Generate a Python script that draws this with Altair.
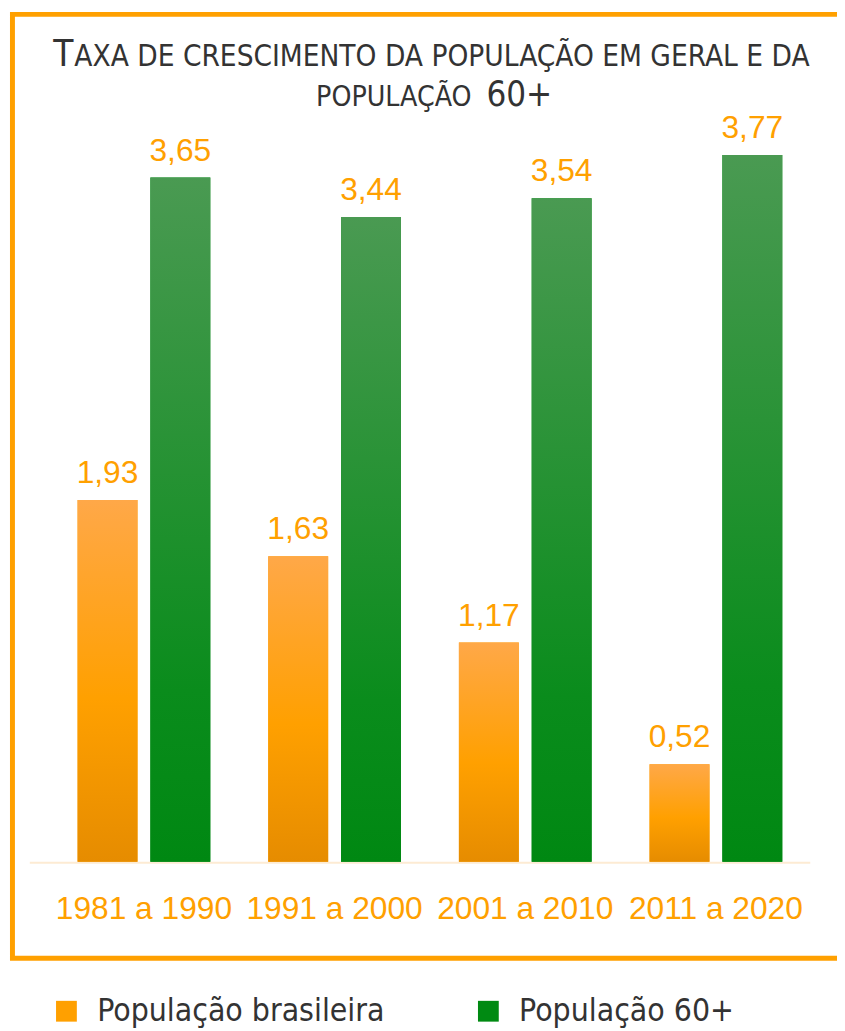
import altair as alt
import pandas as pd

periods = ["1981 a 1990", "1991 a 2000", "2001 a 2010", "2011 a 2020"]
series = ["População brasileira", "População 60+"]
pop_brasileira = [1.93, 1.63, 1.17, 0.52]
pop_60 = [3.65, 3.44, 3.54, 3.77]

rows = []
for p, a, b in zip(periods, pop_brasileira, pop_60):
    rows.append({"periodo": p, "serie": series[0], "valor": a})
    rows.append({"periodo": p, "serie": series[1], "valor": b})
df = pd.DataFrame(rows)

ORANGE = "#FFA000"
GREEN = "#008A12"
TITLE_FONT = "DejaVu Sans Condensed"
W, H = 770, 757

x = alt.X("periodo:N", sort=periods,
          scale=alt.Scale(paddingInner=0, paddingOuter=0),
          axis=alt.Axis(title=None, labelAngle=0, domain=False, ticks=False,
                        labelPadding=32, labelFontSize=32, labelFont="Liberation Sans",
                        labelColor=ORANGE))
xo = alt.XOffset("serie:N", sort=series,
                 scale=alt.Scale(domain=series, paddingInner=0.177, paddingOuter=0.398))
y = alt.Y("valor:Q", scale=alt.Scale(domain=[0, 4], nice=False), axis=None)

base = alt.Chart(df).encode(x=x, xOffset=xo, y=y)

legend_bars = base.mark_bar().encode(
    color=alt.Color("serie:N", sort=series,
                    scale=alt.Scale(domain=series, range=[ORANGE, GREEN]),
                    legend=alt.Legend(title=None, orient="none", legendX=2, legendY=892,
                                      direction="horizontal", symbolType="square",
                                      symbolSize=441, symbolStrokeWidth=0,
                                      labelFontSize=32, labelFont=TITLE_FONT,
                                      labelColor="#333333", labelOffset=15,
                                      columnPadding=88, labelLimit=400))
)

orange_grad = alt.Gradient(
    gradient="linear", x1=0, x2=0, y1=0, y2=1,
    stops=[alt.GradientStop(color="#FFA848", offset=0),
           alt.GradientStop(color="#FFA000", offset=0.55),
           alt.GradientStop(color="#E68C00", offset=1)])
green_grad = alt.Gradient(
    gradient="linear", x1=0, x2=0, y1=0, y2=1,
    stops=[alt.GradientStop(color="#4A9A52", offset=0),
           alt.GradientStop(color="#0A8C1C", offset=0.75),
           alt.GradientStop(color="#008812", offset=1)])

orange_bars = base.transform_filter(alt.datum.serie == series[0]).mark_bar(color=orange_grad)
green_bars = base.transform_filter(alt.datum.serie == series[1]).mark_bar(color=green_grad)

labels = base.transform_calculate(
    lbl="replace(format(datum.valor, '.2f'), '.', ',')"
).mark_text(baseline="alphabetic", dy=-17, fontSize=32, font="Liberation Sans",
            color=ORANGE).encode(text="lbl:N")

one = pd.DataFrame({"k": [0]})
frame = alt.Chart(one).mark_rect(fillOpacity=0, stroke=ORANGE, strokeWidth=5).encode(
    x=alt.value(-36.5), x2=alt.value(810), y=alt.value(-98.5), y2=alt.value(854.5))
baseline = alt.Chart(one).mark_rule(color="#FDEBD3", strokeWidth=2).encode(
    x=alt.value(-19), x2=alt.value(769), y=alt.value(758))

# title (small caps imitation)
title_parts = [
    ("T", 37, "right", 25, -46),
    ("AXA DE CRESCIMENTO DA POPULAÇÃO EM GERAL E DA", 29.8, "left", 26, -46),
    ("POPULAÇÃO", 28.5, "right", 427, -6),
    ("60+", 35, "left", 442, -6),
]
title_layers = [
    alt.Chart(one).mark_text(text=t, fontSize=fs, font=TITLE_FONT, color="#333333",
                             align=al, baseline="alphabetic").encode(
        x=alt.value(xx), y=alt.value(yy))
    for t, fs, al, xx, yy in title_parts
]

chart = alt.layer(frame, baseline, legend_bars, orange_bars, green_bars, labels,
                  *title_layers).properties(
    width=W, height=H,
    autosize=alt.AutoSizeParams(type="none"),
    padding={"left": 41, "top": 100, "right": 26, "bottom": 163},
).configure_view(stroke=None)

chart.save("out.html", embed_options={"renderer": "svg", "actions": False})
